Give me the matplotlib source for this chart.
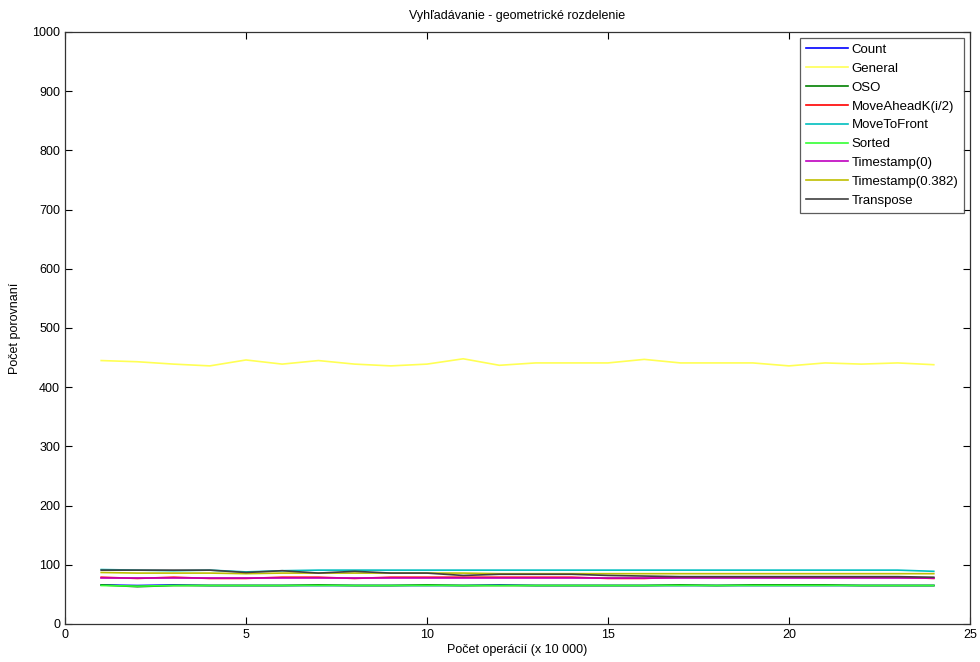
import matplotlib
matplotlib.use("Agg")
import matplotlib.pyplot as plt

plt.rcParams['font.family'] = ['Liberation Sans', 'DejaVu Sans']

x = list(range(1, 25))

count = [66, 65, 66, 65, 65, 65, 65, 65, 65, 65, 65, 66, 65, 65, 65, 65, 65, 65, 65, 65, 65, 65, 65, 65]
general = [445, 443, 439, 436, 446, 439, 445, 439, 436, 439, 448, 437, 441, 441, 441, 447, 441, 441, 441, 436, 441, 439, 441, 438]
oso = [66, 63, 65, 65, 65, 65, 66, 65, 65, 66, 65, 65, 65, 65, 65, 65, 66, 65, 66, 66, 66, 65, 65, 65]
move_ahead = [79, 77, 79, 77, 77, 79, 79, 77, 79, 79, 79, 79, 79, 79, 77, 77, 79, 79, 79, 79, 79, 79, 79, 77]
move_to_front = [92, 91, 90, 91, 88, 90, 91, 91, 91, 91, 91, 91, 91, 91, 91, 91, 91, 91, 91, 91, 91, 91, 91, 89]
sorted_ = [65, 64, 65, 65, 65, 65, 65, 65, 65, 65, 65, 65, 65, 65, 65, 65, 65, 65, 65, 65, 65, 65, 65, 65]
timestamp0 = [77] * 24
timestamp382 = [87, 86, 86, 86, 85, 86, 86, 86, 86, 86, 86, 85, 85, 85, 85, 85, 85, 85, 85, 85, 85, 85, 85, 85]
transpose = [91, 91, 91, 91, 87, 90, 86, 89, 86, 86, 82, 84, 84, 84, 82, 81, 80, 80, 80, 80, 80, 80, 80, 79]

series = [
    ("Count", count, '#0000ff'),
    ("General", general, '#ffff55'),
    ("OSO", oso, '#008000'),
    ("MoveAheadK(i/2)", move_ahead, '#ff0000'),
    ("MoveToFront", move_to_front, '#00bfbf'),
    ("Sorted", sorted_, '#33ff33'),
    ("Timestamp(0)", timestamp0, '#bf00bf'),
    ("Timestamp(0.382)", timestamp382, '#bfbf00'),
    ("Transpose", transpose, '#404040'),
]

fig = plt.figure(figsize=(9.8, 6.62), dpi=100)
ax = fig.add_axes([65/980, 38/662, 905/980, 592/662])

for name, vals, col in series:
    ax.plot(x, vals, color=col, lw=1.2, label=name)

ax.set_xlim(0, 25)
ax.set_ylim(0, 1000)
ax.set_xticks([0, 5, 10, 15, 20, 25])
ax.set_yticks(range(0, 1001, 100))
ax.tick_params(direction='in', top=True, right=True, labelsize=9, length=5, width=0.8)
for s in ax.spines.values():
    s.set_color('#333333')
    s.set_linewidth(0.9)

ax.set_title("Vyhľadávanie - geometrické rozdelenie", fontsize=9, pad=9)
ax.set_xlabel("Počet operácií (x 10 000)", fontsize=9, labelpad=2)
ax.set_ylabel("Počet porovnaní", fontsize=9, labelpad=8)

leg = ax.legend(loc='upper right', fontsize=9.5, handlelength=3.2, labelspacing=0.5,
                frameon=True, fancybox=False, borderaxespad=0.45, handletextpad=0.25,
                borderpad=0.45)
leg.get_frame().set_edgecolor('#333333')
leg.get_frame().set_linewidth(0.9)

fig.savefig("out.png", dpi=100, facecolor='white')
